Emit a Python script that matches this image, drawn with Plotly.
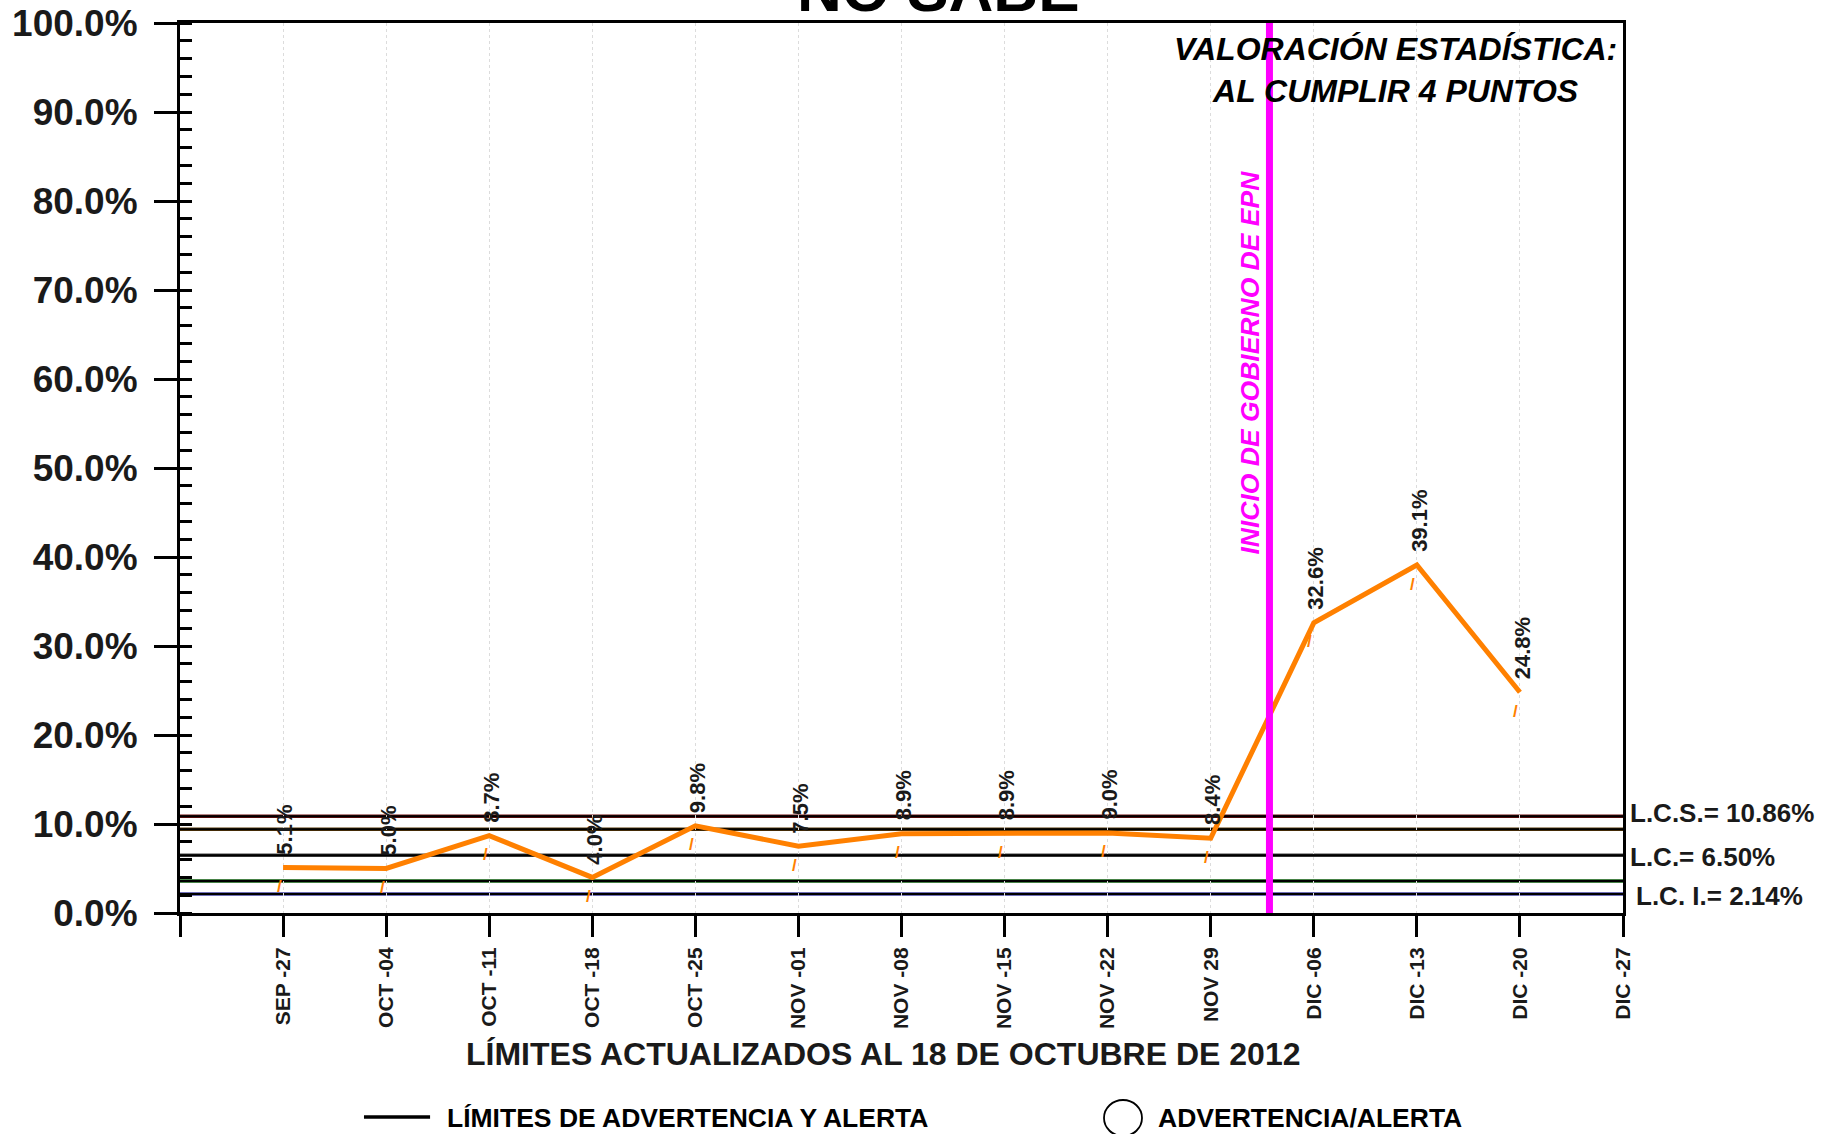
import plotly.graph_objects as go

# ---------------- data ----------------
categories = ["SEP -27", "OCT -04", "OCT -11", "OCT -18", "OCT -25", "NOV -01", "NOV -08",
              "NOV -15", "NOV -22", "NOV 29", "DIC -06", "DIC -13", "DIC -20", "DIC -27"]
no_sabe = [5.1, 5.0, 8.7, 4.0, 9.8, 7.5, 8.9, 8.9, 9.0, 8.4, 32.6, 39.1, 24.8]

lcs = 10.86
lc = 6.50
lci = 2.14
warn_up = 9.41
warn_lo = 3.59

event_x = 10.57          # inicio de gobierno (between NOV 29 and DIC -06)
y_ticks = [0, 10, 20, 30, 40, 50, 60, 70, 80, 90, 100]

FONT = "Liberation Sans, Arial, sans-serif"
NARROW = "Liberation Sans Narrow, Arial Narrow, Liberation Sans, sans-serif"
ORANGE = "#FF8000"
MAGENTA = "#FF00FF"

x_pos = list(range(1, len(no_sabe) + 1))
tick_pos = list(range(0, len(categories) + 1))
tick_txt = [""] + categories

fig = go.Figure()

# limit lines (colored under-stroke + dark core)
limit_lines = [(lcs, "#6b0f0f"), (warn_up, "#5a3a0a"), (lc, "#444444"),
               (warn_lo, "#0a5a0a"), (lci, "#4040a0")]
shapes = []
for val, col in limit_lines:
    shapes.append(dict(type="line", xref="x", yref="y", x0=0, x1=14, y0=val, y1=val,
                       line=dict(color=col, width=3.5), layer="below"))
    shapes.append(dict(type="line", xref="x", yref="y", x0=0, x1=14, y0=val, y1=val,
                       line=dict(color="#000000", width=2), layer="below"))

# event line
shapes.append(dict(type="line", xref="x", yref="y", x0=event_x, x1=event_x, y0=0, y1=100,
                   line=dict(color=MAGENTA, width=7)))

fig.add_trace(go.Scatter(x=x_pos, y=no_sabe, mode="lines",
                         line=dict(color=ORANGE, width=5), showlegend=False,
                         hoverinfo="skip"))

annotations = []
for xi, v in zip(x_pos, no_sabe):
    annotations.append(dict(x=xi, y=v, xref="x", yref="y", text=f"<b>{v:.1f}%</b>",
                            textangle=-90, showarrow=False, yanchor="bottom",
                            xanchor="center", yshift=11, xshift=2,
                            font=dict(family=FONT, size=22, color="#1a1a1a")))
    annotations.append(dict(x=xi, y=v, xref="x", yref="y", text="<b>/</b>",
                            showarrow=False, yanchor="middle", xanchor="center",
                            yshift=-19, xshift=-4,
                            font=dict(family=FONT, size=17, color=ORANGE)))

# limit labels at right
for val, txt, ys, xs in [(lcs, "L.C.S.= 10.86%", 3, 5), (lc, "L.C.= 6.50%", -2, 5),
                         (lci, "L.C. I.= 2.14%", -2, 11)]:
    annotations.append(dict(x=1, y=val, xref="paper", yref="y", text=f"<b>{txt}</b>",
                            showarrow=False, xanchor="left", yanchor="middle",
                            xshift=xs, yshift=ys,
                            font=dict(family=FONT, size=26, color="#1a1a1a")))

# event text
annotations.append(dict(x=event_x, y=61.9, xref="x", yref="y",
                        text="<b><i>INICIO DE GOBIERNO DE EPN</i></b>", textangle=-90,
                        showarrow=False, xanchor="center", yanchor="middle", xshift=-19,
                        font=dict(family=FONT, size=26.5, color=MAGENTA)))

# statistic note
annotations.append(dict(x=0.842, y=0.947, xref="paper", yref="paper",
                        text="<b><i>VALORACIÓN ESTADÍSTICA:<br>AL CUMPLIR 4 PUNTOS</i></b>",
                        showarrow=False, xanchor="center", yanchor="middle", align="center",
                        font=dict(family=FONT, size=32, color="#000000")))

# title (cut at top)
annotations.append(dict(x=0.525, y=1, xref="paper", yref="paper", text="<b>NO SABE</b>",
                        showarrow=False, xanchor="center", yanchor="bottom", yshift=-3,
                        font=dict(family=FONT, size=62, color="#000000")))

# x-axis title
annotations.append(dict(x=0.487, y=-0.158, xref="paper", yref="paper",
                        text="<b>LÍMITES ACTUALIZADOS AL 18 DE OCTUBRE DE 2012</b>",
                        showarrow=False, xanchor="center", yanchor="middle",
                        font=dict(family=FONT, size=32, color="#1a1a1a")))

# legend
shapes.append(dict(type="line", xref="paper", yref="paper", x0=0.1275, x1=0.1733,
                   y0=-0.2292, y1=-0.2292, line=dict(color="#000000", width=3.5)))
annotations.append(dict(x=0.1836, y=-0.2303, xref="paper", yref="paper",
                        text="<b>LÍMITES DE ADVERTENCIA Y ALERTA</b>", showarrow=False,
                        xanchor="left", yanchor="middle",
                        font=dict(family=NARROW, size=26.5, color="#000000")))
shapes.append(dict(type="circle", xref="paper", yref="paper",
                   x0=(1104 - 180) / 1443, x1=(1142 - 180) / 1443,
                   y0=(913 - 1100) / 890, y1=(913 - 1136) / 890,
                   line=dict(color="#000000", width=1.8)))
annotations.append(dict(x=(1156 - 180) / 1443, y=-0.2303, xref="paper", yref="paper",
                        text="<b>ADVERTENCIA/ALERTA</b>", showarrow=False,
                        xanchor="left", yanchor="middle",
                        font=dict(family=NARROW, size=26.5, color="#000000")))

fig.update_layout(
    width=1822, height=1134,
    margin=dict(l=180, r=199, t=23, b=221, autoexpand=False),
    paper_bgcolor="white", plot_bgcolor="white",
    shapes=shapes, annotations=annotations, showlegend=False,
    font=dict(family=FONT),
    xaxis=dict(range=[0, 14], tickmode="array", tickvals=tick_pos, ticktext=tick_txt,
               tickangle=-90, ticks="outside", ticklen=21, tickwidth=3, tickcolor="#000",
               showline=True, linewidth=3, linecolor="#000", mirror=True,
               showgrid=True, gridcolor="#dcdcdc", gridwidth=1, griddash="3px,3px",
               zeroline=False, ticklabelstandoff=2, automargin=False,
               tickfont=dict(family=FONT, size=21, color="#1a1a1a", weight="bold")),
    yaxis=dict(range=[0, 100], tickmode="array", tickvals=y_ticks,
               ticktext=[f"{t:.1f}%" for t in y_ticks],
               ticks="outside", ticklen=23, tickwidth=3, tickcolor="#000",
               minor=dict(dtick=2, ticks="inside", ticklen=12, tickwidth=3,
                          tickcolor="#000", showgrid=False),
               showline=True, linewidth=3, linecolor="#000", mirror=True,
               showgrid=False, zeroline=False, ticklabelstandoff=9, automargin=False,
               tickfont=dict(family=FONT, size=37, color="#1a1a1a", weight="bold")),
)

fig.write_html("out.html", config={"displayModeBar": False},
               post_script="document.body.style.margin='0';document.body.style.overflow='hidden';")
